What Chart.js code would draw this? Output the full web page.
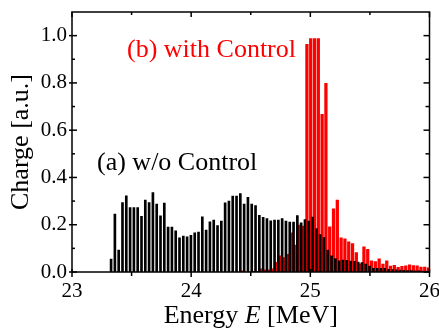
<!DOCTYPE html>
<html>
<head>
<meta charset="utf-8">
<script src="https://cdn.jsdelivr.net/npm/chart.js@4.4.1/dist/chart.umd.min.js"></script>
<style>
  html, body { margin: 0; padding: 0; background: #fff; }
  #wrap { width: 439px; height: 328px; }
</style>
</head>
<body>
<div id="wrap"><canvas id="myChart"></canvas></div>
<script>
// Histogram bins (MeV)
const binWidth = 0.0319;
const firstBinNoControl = 23.328;
const firstBinControl = 24.429;

// (a) w/o Control - charge per bin
const chargeNoControl = [
    0.055, 0.245, 0.093, 0.294, 0.322, 0.273, 0.273, 0.273, 0.236, 0.304,
    0.294, 0.336, 0.287, 0.238, 0.292, 0.190, 0.190, 0.174, 0.145, 0.152,
    0.149, 0.155, 0.166, 0.169, 0.233, 0.177, 0.212, 0.220, 0.196, 0.215,
    0.293, 0.300, 0.321, 0.321, 0.332, 0.287, 0.316, 0.287, 0.281, 0.240,
    0.231, 0.226, 0.216, 0.220, 0.220, 0.226, 0.215, 0.211, 0.211, 0.239,
    0.208, 0.222, 0.215, 0.232, 0.184, 0.158, 0.147, 0.093, 0.068, 0.057,
    0.047, 0.050, 0.049, 0.046, 0.045, 0.042, 0.040, 0.034, 0.025, 0.016,
    0.016, 0.015, 0.015, 0.011, 0.010, 0.009, 0.008, 0.007, 0.006, 0.006,
    0.005, 0.005, 0.004, 0.004
];

// (b) with Control - charge per bin
const chargeControl = [
    0.005, 0.000, 0.000, 0.003, 0.003, 0.013, 0.009, 0.009, 0.013, 0.041,
    0.068, 0.061, 0.075, 0.166, 0.114, 0.198, 0.194, 0.963, 0.988, 0.988,
    0.988, 0.667, 0.798, 0.191, 0.267, 0.304, 0.145, 0.140, 0.128, 0.120,
    0.082, 0.035, 0.107, 0.096, 0.047, 0.044, 0.056, 0.034, 0.047, 0.025,
    0.028, 0.020, 0.024, 0.026, 0.030, 0.027, 0.026, 0.021, 0.021, 0.018
];

const xTickLabels = [23, 24, 25, 26];
const yTickLabels = [0, 0.2, 0.4, 0.6, 0.8, 1.0];

const serif = '"Liberation Serif", "Times New Roman", serif';

// puntos {x, y} para el eje lineal
const pointsNoControl = chargeNoControl.map((v, i) => ({ x: firstBinNoControl + i * binWidth, y: v }));
const pointsControl = chargeControl.map((v, i) => ({ x: firstBinControl + i * binWidth, y: v }));

// marco, ticks hacia dentro, titulos y anotaciones
const framePlugin = {
    id: 'frame',
    afterDraw(chart) {
        const { ctx, chartArea: a, scales: { x, y } } = chart;
        ctx.save();
        ctx.strokeStyle = '#000';
        ctx.lineWidth = 1.5;
        ctx.strokeRect(a.left, a.top, a.right - a.left, a.bottom - a.top);

        const line = (x1, y1, x2, y2) => {
            ctx.beginPath();
            ctx.moveTo(x1, y1);
            ctx.lineTo(x2, y2);
            ctx.stroke();
        };

        xTickLabels.forEach((v, i) => {
            const px = x.getPixelForValue(v);
            line(px, a.bottom - 3, px, a.bottom + 5);
            line(px, a.top, px, a.top + 5);
            if (i < xTickLabels.length - 1) {
                const mx = x.getPixelForValue((v + xTickLabels[i + 1]) / 2);
                line(mx, a.bottom, mx, a.bottom + 4);
                line(mx, a.top, mx, a.top + 3);
            }
        });
        yTickLabels.forEach((v, i) => {
            const py = y.getPixelForValue(v);
            line(a.left - 3, py, a.left + 5, py);
            line(a.right - 6, py, a.right, py);
            const next = i < yTickLabels.length - 1 ? yTickLabels[i + 1] : v + 0.2;
            const my = y.getPixelForValue((v + next) / 2);
            if (my > a.top) {
                line(a.left, my, a.left + 3, my);
                line(a.right - 4, my, a.right, my);
            }
        });

        // titulo eje X con E en cursiva
        ctx.fillStyle = '#000';
        ctx.textBaseline = 'alphabetic';
        const parts = [
            { t: 'Energy ', f: '26px ' + serif },
            { t: 'E', f: 'italic 26px ' + serif },
            { t: ' [MeV]', f: '26px ' + serif }
        ];
        let total = 0;
        parts.forEach(p => { ctx.font = p.f; p.w = ctx.measureText(p.t).width; total += p.w; });
        let cx = (a.left + a.right) / 2 - total / 2;
        parts.forEach(p => { ctx.font = p.f; ctx.fillText(p.t, cx, 323); cx += p.w; });

        // titulo eje Y
        ctx.save();
        ctx.translate(21, (a.top + a.bottom) / 2);
        ctx.rotate(-Math.PI / 2);
        ctx.font = '26px ' + serif;
        ctx.textAlign = 'center';
        ctx.textBaseline = 'middle';
        ctx.fillText('Charge [a.u.]', 0, 0);
        ctx.restore();

        // anotaciones
        ctx.font = '26px ' + serif;
        ctx.textAlign = 'left';
        ctx.fillStyle = '#ff0000';
        ctx.fillText('(b) with Control', 127, 57);
        ctx.fillStyle = '#000';
        ctx.fillText('(a) w/o Control', 97, 170);
        ctx.restore();
    }
};

const config = {
    type: 'bar',
    data: {
        datasets: [
            {
                label: '(a) w/o Control',
                data: pointsNoControl,
                backgroundColor: '#000000',
                barThickness: 2,
                grouped: false
            },
            {
                label: '(b) with Control',
                data: pointsControl,
                backgroundColor: '#ff0000',
                barThickness: 2.6,
                grouped: false
            }
        ]
    },
    options: {
        responsive: true,
        maintainAspectRatio: false,
        animation: false,
        layout: { padding: { left: 0, right: 9.5, top: 12, bottom: 0 } },
        plugins: {
            legend: { display: false },
            tooltip: { enabled: false }
        },
        scales: {
            x: {
                type: 'linear',
                min: 23,
                max: 26,
                offset: false,
                grid: { display: false, drawTicks: false },
                border: { display: false },
                ticks: {
                    color: '#000',
                    font: { family: serif, size: 21 },
                    padding: 7,
                    maxRotation: 0
                },
                afterBuildTicks: scale => { scale.ticks = xTickLabels.map(v => ({ value: v })); },
                afterFit: scale => {
                    scale.height = 56;
                    scale.paddingLeft = 0;
                    scale.paddingRight = 0;
                }
            },
            y: {
                min: 0,
                max: 1.1,
                grid: { display: false, drawTicks: false },
                border: { display: false },
                ticks: {
                    color: '#000',
                    font: { family: serif, size: 21 },
                    padding: 5,
                    callback: v => Number(v).toFixed(1)
                },
                afterBuildTicks: scale => { scale.ticks = yTickLabels.map(v => ({ value: v })); },
                afterFit: scale => {
                    scale.width = 72;
                    scale.paddingTop = 0;
                    scale.paddingBottom = 0;
                }
            }
        }
    },
    plugins: [framePlugin]
};

const ctx = document.getElementById('myChart').getContext('2d');
const myChart = new Chart(ctx, config);
</script>
</body>
</html>
